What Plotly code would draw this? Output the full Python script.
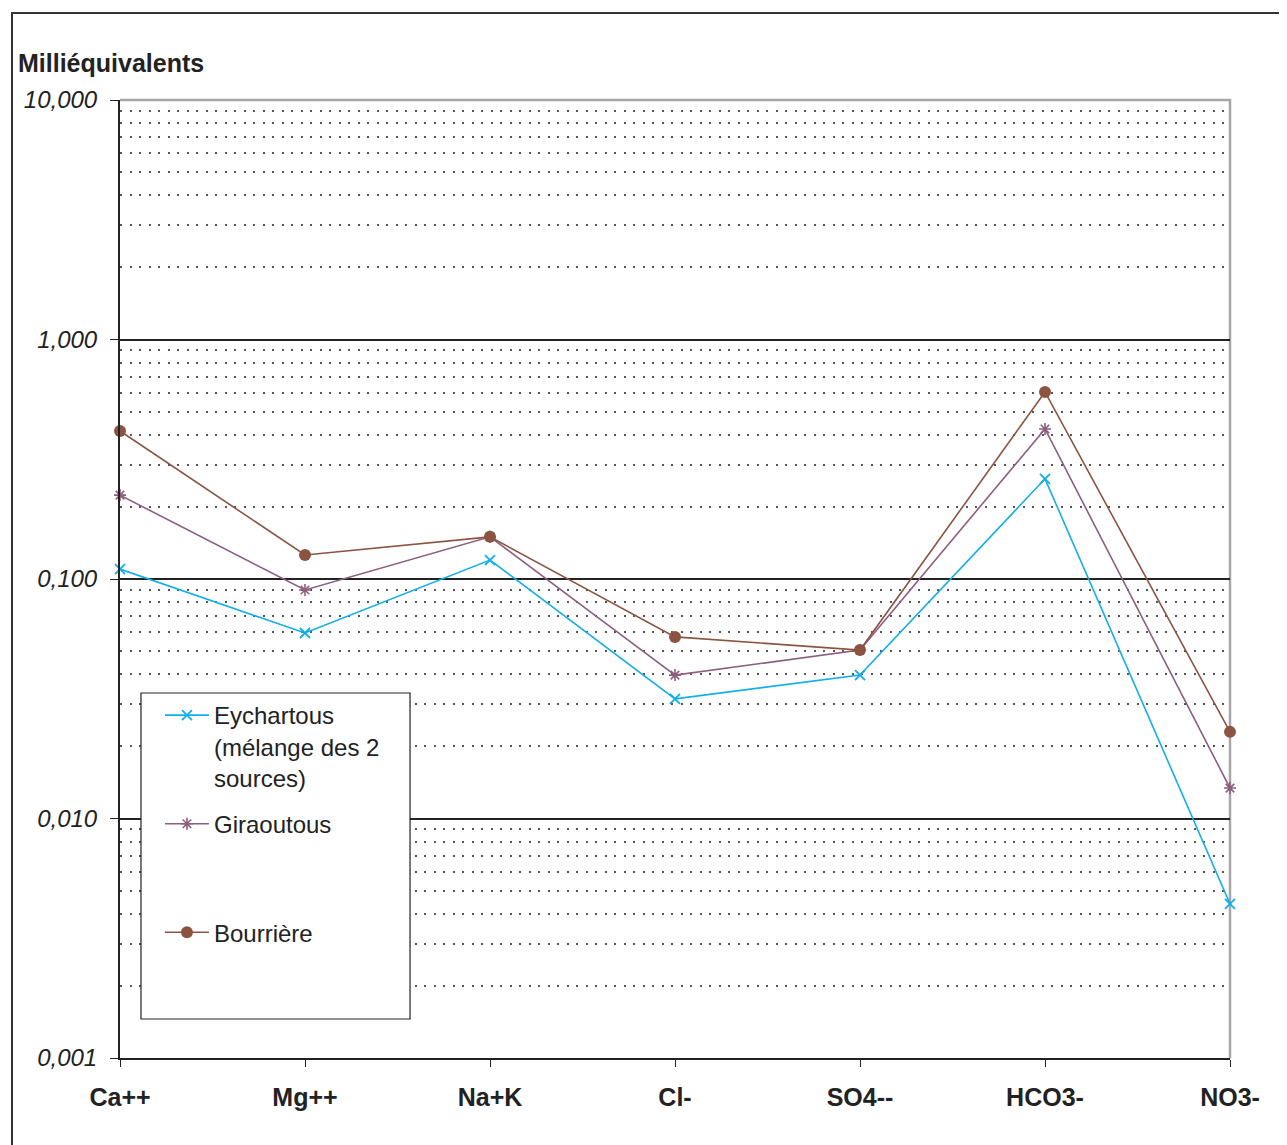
import plotly.graph_objects as go

categories = ["Ca++", "Mg++", "Na+K", "Cl-", "SO4--", "HCO3-", "NO3-"]
eychartous = [0.110, 0.0595, 0.120, 0.0316, 0.0397, 0.262, 0.0044]
giraoutous = [0.224, 0.090, 0.150, 0.0397, 0.0505, 0.423, 0.0134]
bourriere = [0.415, 0.126, 0.150, 0.0573, 0.0505, 0.604, 0.0230]

y_tickvals = [0.001, 0.01, 0.1, 1, 10]
y_ticktext = ["0,001", "0,010", "0,100", "1,000", "10,000"]

FONT = "Liberation Sans, Arial, sans-serif"

fig = go.Figure()
fig.add_trace(go.Scatter(
    x=categories, y=eychartous, mode="lines+markers",
    name="Eychartous<br>(mélange des 2<br>sources)",
    line=dict(color="#12AEEA", width=1.6),
    marker=dict(symbol="x-thin-open", size=10, line=dict(color="#12AEEA", width=1.8)),
    legendgroup="a", cliponaxis=False,
))
fig.add_trace(go.Scatter(
    x=categories, y=giraoutous, mode="lines+markers",
    name="Giraoutous<br> <br> ",
    line=dict(color="#8D5E7E", width=1.6),
    marker=dict(symbol="asterisk-open", size=10, line=dict(color="#8D5E7E", width=1.6)),
    legendgroup="b", cliponaxis=False,
))
fig.add_trace(go.Scatter(
    x=categories, y=bourriere, mode="lines+markers",
    name="Bourrière",
    line=dict(color="#8A5440", width=1.6),
    marker=dict(symbol="circle", size=12, color="#8A5440"),
    legendgroup="c", cliponaxis=False,
))

fig.update_layout(
    width=1279, height=1137,
    margin=dict(l=112, r=57, t=92, b=87),
    paper_bgcolor="white", plot_bgcolor="white",
    font=dict(family=FONT, size=24, color="#222"),
    showlegend=True,
    legend=dict(
        x=0.036, y=0.381, xanchor="left", yanchor="top",
        bgcolor="rgba(0,0,0,0)", borderwidth=0,
        font=dict(family=FONT, size=24, color="#222"),
        valign="top", tracegroupgap=12, traceorder="grouped",
        itemwidth=44,
    ),
    xaxis=dict(
        type="category", range=[0, 6],
        showline=True, linecolor="#222", linewidth=2,
        ticks="outside", ticklen=7, tickcolor="#222", tickwidth=1,
        tickfont=dict(family=FONT, size=25, color="#222", weight="bold"),
        showgrid=False, zeroline=False, ticklabelstandoff=9,
    ),
    yaxis=dict(
        type="log", range=[-3, 1],
        tickmode="array", tickvals=y_tickvals, ticktext=y_ticktext,
        showline=True, linecolor="#222", linewidth=2,
        ticks="outside", ticklen=8, tickcolor="#222", tickwidth=1,
        tickfont=dict(family=FONT, size=24, color="#222", style="italic"),
        showgrid=True, gridcolor="#222", gridwidth=1.5,
        zeroline=False, ticklabelstandoff=8,
        minor=dict(dtick="D1", showgrid=True, gridcolor="#555",
                   griddash="2px,7.5px", gridwidth=1.5, ticks=""),
    ),
    annotations=[dict(
        text="<b>Milliéquivalents</b>", xref="paper", yref="paper",
        x=-0.0937, y=1.0386, xanchor="left", yanchor="middle",
        showarrow=False, font=dict(family=FONT, size=25, color="#222"),
    )],
    shapes=[
        dict(type="path", xref="paper", yref="paper",
             path="M 0,1 L 1,1 L 1,0", line=dict(color="#A6A6A6", width=2.5),
             layer="below"),
        dict(type="rect", xref="paper", yref="paper",
             x0=-0.0973, x1=1.1, y0=-0.2, y1=1.0908,
             line=dict(color="#333", width=2), layer="below"),
        dict(type="rect", xref="paper", yref="paper",
             x0=0.0189, x1=0.2613, y0=0.0407, y1=0.381,
             fillcolor="white", line=dict(color="#222", width=1.2),
             layer="above"),
    ],
)

fig.write_html("out.html")
